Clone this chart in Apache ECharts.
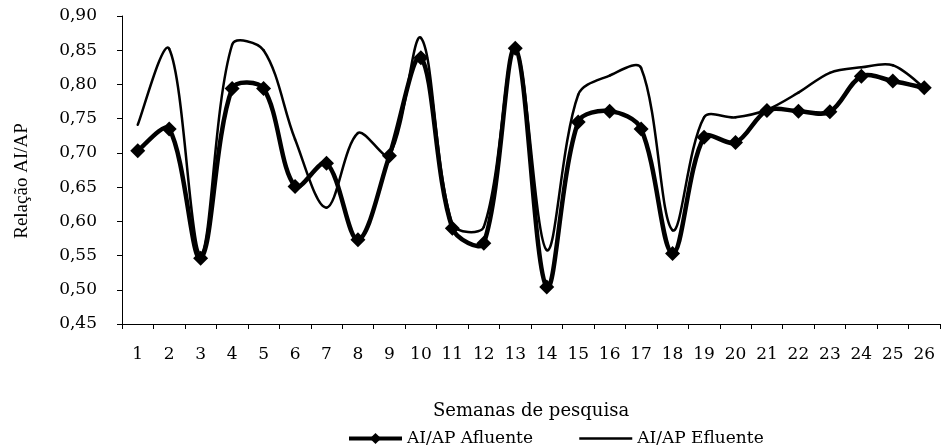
<!DOCTYPE html>
<html><head><meta charset="utf-8">
<script src="https://cdn.jsdelivr.net/npm/echarts@6/dist/echarts.min.js"></script>
<style>html,body{margin:0;padding:0;background:#fff}#c{width:942px;height:445px}</style>
</head><body><div id="c"></div>
<script>
const weeks = ['1','2','3','4','5','6','7','8','9','10','11','12','13','14','15','16','17','18','19','20','21','22','23','24','25','26'];
const afluente = [0.703,0.735,0.546,0.794,0.794,0.651,0.685,0.573,0.696,0.839,0.590,0.568,0.853,0.504,0.745,0.761,0.735,0.553,0.723,0.715,0.762,0.761,0.760,0.812,0.805,0.795];
const efluente = [0.741,0.852,0.553,0.858,0.850,0.720,0.620,0.729,0.697,0.868,0.596,0.592,0.853,0.558,0.785,0.813,0.824,0.587,0.752,0.752,0.763,0.788,0.817,0.825,0.828,0.795];
const yMin = 0.45, yMax = 0.90, yStep = 0.05;
const seriesNames = ['AI/AP Afluente', 'AI/AP Efluente'];

const chart = echarts.init(document.getElementById('c'));
const serif = 'DejaVu Serif';

// Excel-like smoothed curve (length-weighted Catmull-Rom Bezier) drawn through the axis scales
function curve(id, vals, width, z) {
  const n = vals.length;
  const dist = (a, b) => Math.hypot(b[0] - a[0], b[1] - a[1]) || 1e-6;
  return {
    type: 'custom', name: id, z: z, silent: true,
    data: vals.map((v, i) => [i, v]),
    encode: { x: 0, y: 1 },
    renderItem(params, api) {
      const i = params.dataIndex;
      if (i >= n - 1) return null;
      const P = k => { const j = Math.max(0, Math.min(n - 1, k)); return api.coord([j, vals[j]]); };
      const p0 = P(i - 1), p1 = P(i), p2 = P(i + 1), p3 = P(i + 2);
      const d01 = dist(p0, p1), d12 = dist(p1, p2), d23 = dist(p2, p3);
      const s = 1 / 3;
      const f1 = i === 0 ? s / 2 : s * d12 / (d01 + d12);
      const f2 = i + 2 > n - 1 ? s / 2 : s * d12 / (d12 + d23);
      return {
        type: 'bezierCurve',
        shape: {
          x1: p1[0], y1: p1[1], x2: p2[0], y2: p2[1],
          cpx1: p1[0] + (p2[0] - p0[0]) * f1, cpy1: p1[1] + (p2[1] - p0[1]) * f1,
          cpx2: p2[0] - (p3[0] - p1[0]) * f2, cpy2: p2[1] - (p3[1] - p1[1]) * f2
        },
        style: { stroke: '#000', lineWidth: width, fill: null, lineCap: 'round' }
      };
    }
  };
}

chart.setOption({
  animation: false,
  backgroundColor: '#fff',
  grid: { left: 122, right: 2, top: 16, bottom: 121, containLabel: false, outerBoundsMode: 'none' },
  legend: {
    left: 342, top: 425,
    itemWidth: 53, itemHeight: 14, itemGap: 45,
    textStyle: { fontFamily: serif, fontSize: 17, color: '#000' },
    data: [
      { name: seriesNames[0], lineStyle: { width: 4, opacity: 1, color: '#000' }, itemStyle: { color: '#000', opacity: 1 } },
      { name: seriesNames[1], lineStyle: { width: 2.5, opacity: 1, color: '#000' }, itemStyle: { opacity: 0 } }
    ]
  },
  xAxis: {
    type: 'category', data: weeks, boundaryGap: true,
    name: 'Semanas de pesquisa', nameLocation: 'middle', nameGap: 78,
    nameTextStyle: { fontFamily: serif, fontSize: 18, color: '#000' },
    axisLine: { show: true, lineStyle: { color: '#000', width: 1 } },
    axisTick: { show: true, length: 5, inside: false, lineStyle: { color: '#000' } },
    axisLabel: { margin: 22, fontFamily: serif, fontSize: 17, color: '#000', interval: 0 },
    splitLine: { show: false }
  },
  yAxis: {
    type: 'value', min: yMin, max: yMax, interval: yStep,
    name: 'Relação AI/AP', nameLocation: 'middle', nameGap: 90,
    nameTextStyle: { fontFamily: 'Liberation Serif', fontSize: 19, color: '#000', padding: [0, 22, 0, 0] },
    axisLine: { show: true, lineStyle: { color: '#000', width: 1 } },
    axisTick: { show: true, length: 5, lineStyle: { color: '#000' } },
    axisLabel: { margin: 25, fontFamily: serif, fontSize: 17, color: '#000',
      formatter: v => v.toFixed(2).replace('.', ',') },
    splitLine: { show: false }
  },
  series: [
    { name: seriesNames[0], type: 'line', data: afluente,
      symbol: 'diamond', symbolSize: 15, z: 5,
      lineStyle: { color: '#000', width: 4, opacity: 0 }, itemStyle: { color: '#000' } },
    { name: seriesNames[1], type: 'line', data: efluente,
      symbol: 'none', z: 4,
      lineStyle: { color: '#000', width: 2.5, opacity: 0 }, itemStyle: { color: '#000' } },
    curve('curveAfluente', afluente, 4.5, 3),
    curve('curveEfluente', efluente, 2.5, 2)
  ]
});
</script></body></html>
